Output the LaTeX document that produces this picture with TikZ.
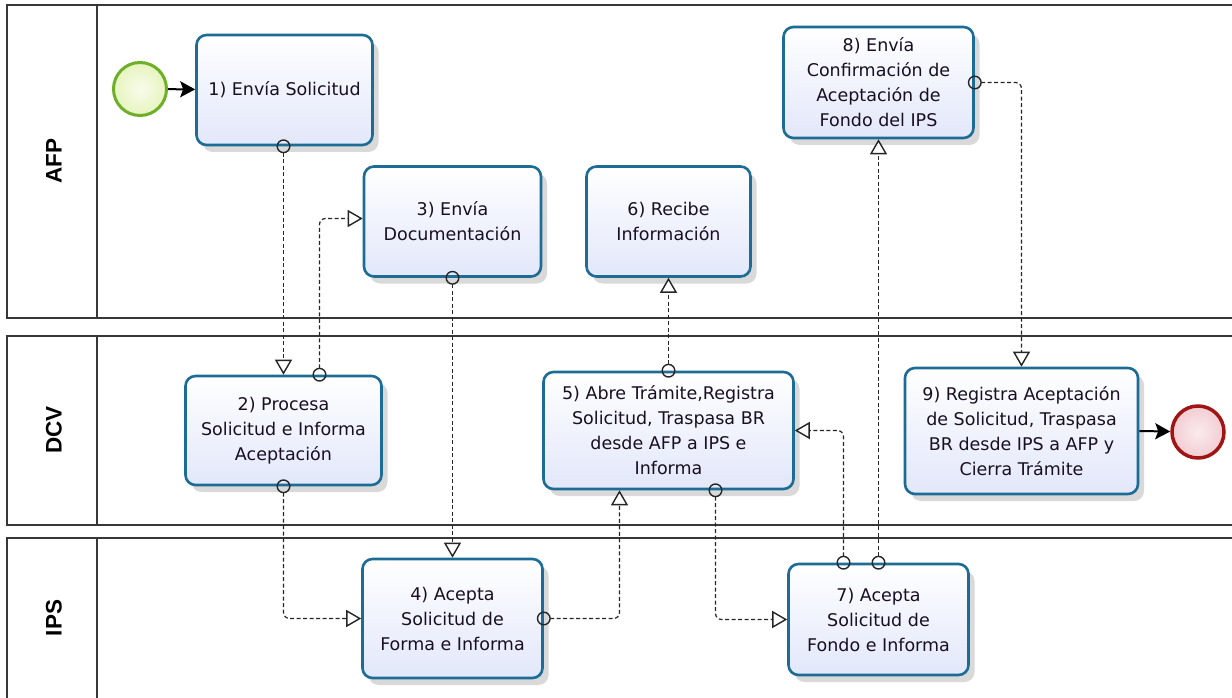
\documentclass[tikz,border=0pt]{standalone}
\usepackage{fontspec}
\setmainfont{DejaVu Sans}
\newfontfamily\lanefont{Liberation Sans}
\usetikzlibrary{arrows.meta,shadows,calc}
\definecolor{boxborder}{RGB}{28,108,150}
\definecolor{boxfill}{RGB}{226,231,250}
\definecolor{poolline}{RGB}{55,55,55}
\definecolor{startline}{RGB}{110,175,40}
\definecolor{startfill}{RGB}{230,244,190}
\definecolor{endline}{RGB}{160,20,20}
\definecolor{endfill}{RGB}{242,205,210}
\definecolor{txt}{RGB}{25,15,35}
\tikzset{
  task/.style={rectangle, rounded corners=10pt, draw=boxborder, line width=2.6pt,
    top color=white, bottom color=boxfill, align=center, text=txt,
    font=\fontsize{17.5}{25}\selectfont,
    drop shadow={shadow xshift=6pt, shadow yshift=-7pt, opacity=0.15, fill=black}},
  pool/.style={draw=poolline, line width=1.5pt},
  lanelabel/.style={rotate=90, font=\lanefont\bfseries\fontsize{22.5}{22.5}\selectfont, text=black},
  msg/.style={draw=black!85, line width=1.2pt, dash pattern=on 4pt off 2.5pt, rounded corners=6pt,
    {Circle[open,length=14pt,width=14pt,line width=1.4pt]}-{Triangle[open,length=15pt,width=17pt,fill=white,line width=1.4pt]}},
  seq/.style={draw=black, line width=2pt, -{Stealth[length=15pt,width=16pt,inset=3pt]}},
}
\begin{document}
\begin{tikzpicture}[x=1pt,y=-1pt]
\useasboundingbox (0,0) rectangle (1232,698);
\clip (0,0) rectangle (1232,698);
\fill[white] (0,0) rectangle (1232,698);
% pools
\draw[pool] (7,5) rectangle (1250,318);
\draw[pool] (97,5) -- (97,318);
\draw[pool] (7,336) rectangle (1250,525);
\draw[pool] (97,336) -- (97,525);
\draw[pool] (7,538) rectangle (1250,720);
\draw[pool] (97,538) -- (97,720);
\node[lanelabel] (lafp) at (54,161) {AFP};
\node[lanelabel] (ldcv) at (54,430) {DCV};
\node[lanelabel] (lips) at (54,618) {IPS};
% events
\node[circle, minimum size=53pt, inner sep=0pt, draw=startline, line width=3pt, inner color=white!70!startfill, outer color=startfill] (start) at (140,89) {};
\node[circle, minimum size=52pt, inner sep=0pt, draw=endline, line width=3.5pt, inner color=white!60!endfill, outer color=endfill] (end) at (1198,432) {};
% tasks
\node[task, minimum width=176pt, minimum height=110pt] (b1) at (284.5,90) {1) Envía Solicitud};
\node[task, minimum width=177pt, minimum height=110pt] (b3) at (452.5,221.5) {3) Envía\\Documentación};
\node[task, minimum width=164pt, minimum height=110pt] (b6) at (668.5,221.5) {6) Recibe\\Información};
\node[task, minimum width=190pt, minimum height=111pt] (b8) at (878.5,82.5) {8) Envía\\Confirmación de\\Aceptación de\\Fondo del IPS};
\node[task, minimum width=196pt, minimum height=109pt] (b2) at (283.5,430.5) {2) Procesa\\Solicitud e Informa\\Aceptación};
\node[task, minimum width=250pt, minimum height=117pt] (b5) at (668.5,430.5) {5) Abre Trámite,Registra\\Solicitud, Traspasa BR\\desde AFP a IPS e\\Informa};
\node[task, minimum width=233pt, minimum height=126pt] (b9) at (1021.5,431) {9) Registra Aceptación\\de Solicitud, Traspasa\\BR desde IPS a AFP y\\Cierra Trámite};
\node[task, minimum width=180pt, minimum height=119pt] (b4) at (452.5,618.5) {4) Acepta\\Solicitud de\\Forma e Informa};
\node[task, minimum width=180pt, minimum height=111pt] (b7) at (878.5,619.5) {7) Acepta\\Solicitud de\\Fondo e Informa};
% sequence flows
\draw[seq] (start) -- (b1);
\draw[seq] (b9.east) -- (end);
% message flows
\draw[msg] ($(b1.south)+(-1,-7)$) -- (b2.north);
\draw[msg] ($(b2.north)+(36,7)$) |- ($(b3.west)+(0,-3)$);
\draw[msg] ($(b3.south)+(0,-7)$) -- (b4.north);
\draw[msg] ($(b2.south)+(0,-7)$) |- (b4.west);
\draw[msg] ($(b4.east)+(-7,0)$) -| ($(b5.south)+(-49,0)$);
\draw[msg] ($(b5.north)+(0,7)$) -- (b6.south);
\draw[msg] ($(b5.south)+(47,-7)$) |- (b7.west);
\draw[msg] ($(b7.north)+(-35,7)$) |- (b5.east);
\draw[msg] ($(b7.north)+(0,7)$) -- (b8.south);
\draw[msg] ($(b8.east)+(-7,0)$) -| (b9.north);
\end{tikzpicture}
\end{document}
